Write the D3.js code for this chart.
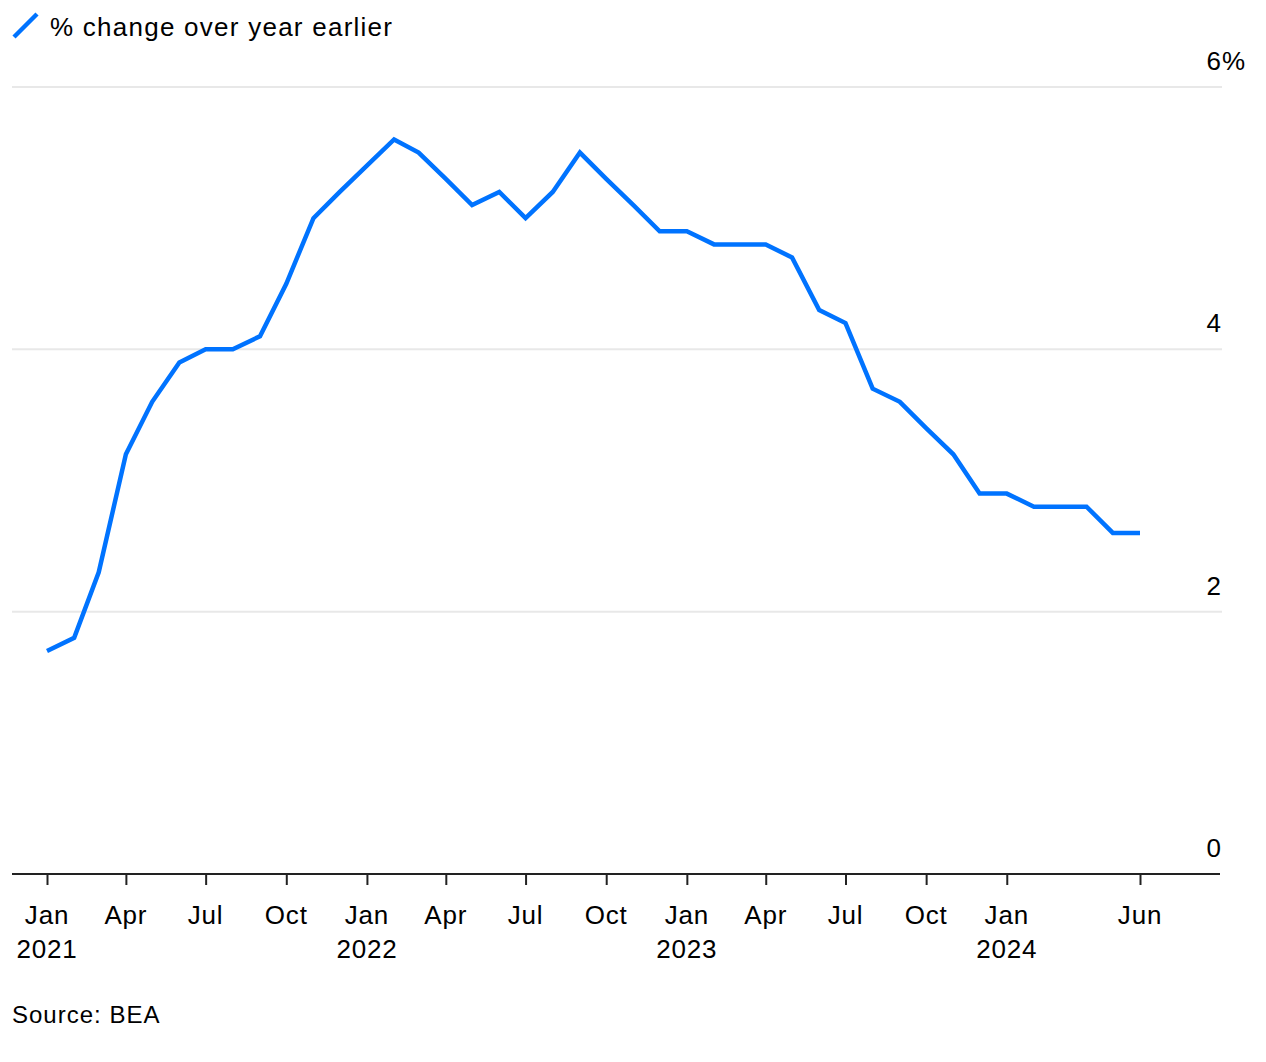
<!DOCTYPE html>
<html><head><meta charset="utf-8">
<script src="https://cdn.jsdelivr.net/npm/d3@7"></script>
<style>
html,body{margin:0;padding:0;background:#fff;}
text{font-family:"Liberation Sans",Arial,Helvetica,sans-serif;fill:#000;}
</style></head>
<body>
<svg id="chart" width="1266" height="1062"></svg>
<script>
const months = ["2021-01","2021-02","2021-03","2021-04","2021-05","2021-06","2021-07","2021-08","2021-09","2021-10","2021-11","2021-12",
"2022-01","2022-02","2022-03","2022-04","2022-05","2022-06","2022-07","2022-08","2022-09","2022-10","2022-11","2022-12",
"2023-01","2023-02","2023-03","2023-04","2023-05","2023-06","2023-07","2023-08","2023-09","2023-10","2023-11","2023-12",
"2024-01","2024-02","2024-03","2024-04","2024-05","2024-06"];
const values = [1.7,1.8,2.3,3.2,3.6,3.9,4.0,4.0,4.1,4.5,5.0,5.2,
5.4,5.6,5.5,5.3,5.1,5.2,5.0,5.2,5.5,5.3,5.1,4.9,
4.9,4.8,4.8,4.8,4.7,4.3,4.2,3.7,3.6,3.4,3.2,2.9,
2.9,2.8,2.8,2.8,2.6,2.6];
const xTicks = ["2021-01","2021-04","2021-07","2021-10","2022-01","2022-04","2022-07","2022-10","2023-01","2023-04","2023-07","2023-10","2024-01","2024-06"];
const xTickMonth = ["Jan","Apr","Jul","Oct","Jan","Apr","Jul","Oct","Jan","Apr","Jul","Oct","Jan","Jun"];
const xTickYear = ["2021","","","","2022","","","","2023","","","","2024",""];
const yTicks = [0,2,4,6];
const legendLabel = "% change over year earlier";
const sourceText = "Source: BEA";

const parse = d3.timeParse("%Y-%m");
const svg = d3.select("#chart");
const color = "#0073ff";

const x = d3.scaleTime().domain([parse("2021-01"), parse("2024-06")]).range([47, 1140]);
const y = d3.scaleLinear().domain([0, 6]).range([874, 87]);

// gridlines
svg.append("g").selectAll("line").data(yTicks.filter(d => d > 0)).join("line")
  .attr("x1", 12).attr("x2", 1222)
  .attr("y1", d => y(d)).attr("y2", d => y(d))
  .attr("stroke", "#e8e8e8").attr("stroke-width", 2);

// y labels
const yl = svg.append("g");
yl.selectAll("text").data(yTicks).join("text")
  .attr("x", 1221).attr("y", d => y(d) - 17)
  .attr("text-anchor", "end").attr("font-size", 26)
  .text(d => d);
yl.append("text").attr("x", 1222).attr("y", y(6) - 17).attr("font-size", 26)
  .attr("letter-spacing", 0.5).text("%");

// x axis
const xAxis = d3.axisBottom(x)
  .tickValues(xTicks.map(parse))
  .tickSize(11).tickFormat("");
const gx = svg.append("g").attr("transform", "translate(0,874)").call(xAxis);
gx.select(".domain").remove();
gx.selectAll(".tick line").attr("stroke", "#222").attr("stroke-width", 2);
svg.append("line").attr("x1", 12).attr("x2", 1220).attr("y1", 874).attr("y2", 874)
  .attr("stroke", "#222").attr("stroke-width", 2);

const tl = svg.append("g");
tl.selectAll("text.m").data(xTicks).join("text").attr("class", "m")
  .attr("x", d => x(parse(d))).attr("y", 924)
  .attr("text-anchor", "middle").attr("font-size", 26).attr("letter-spacing", 0.8)
  .text((d, i) => xTickMonth[i]);
tl.selectAll("text.yr").data(xTicks).join("text").attr("class", "yr")
  .attr("x", d => x(parse(d))).attr("y", 958)
  .attr("text-anchor", "middle").attr("font-size", 26).attr("letter-spacing", 0.8)
  .text((d, i) => xTickYear[i]);

// line
const line = d3.line().x((d, i) => x(parse(months[i]))).y(d => y(d));
svg.append("path").datum(values)
  .attr("d", line).attr("fill", "none")
  .attr("stroke", color).attr("stroke-width", 4.5)
  .attr("stroke-linejoin", "miter").attr("stroke-linecap", "butt");

// legend
svg.append("line").attr("x1", 14).attr("y1", 37).attr("x2", 37).attr("y2", 14)
  .attr("stroke", color).attr("stroke-width", 4.5);
svg.append("text").attr("x", 50).attr("y", 36).attr("font-size", 26)
  .attr("letter-spacing", 1.25).text(legendLabel);

// source
svg.append("text").attr("x", 12).attr("y", 1023).attr("font-size", 24)
  .attr("letter-spacing", 1.0).text(sourceText);
</script>
</body></html>
